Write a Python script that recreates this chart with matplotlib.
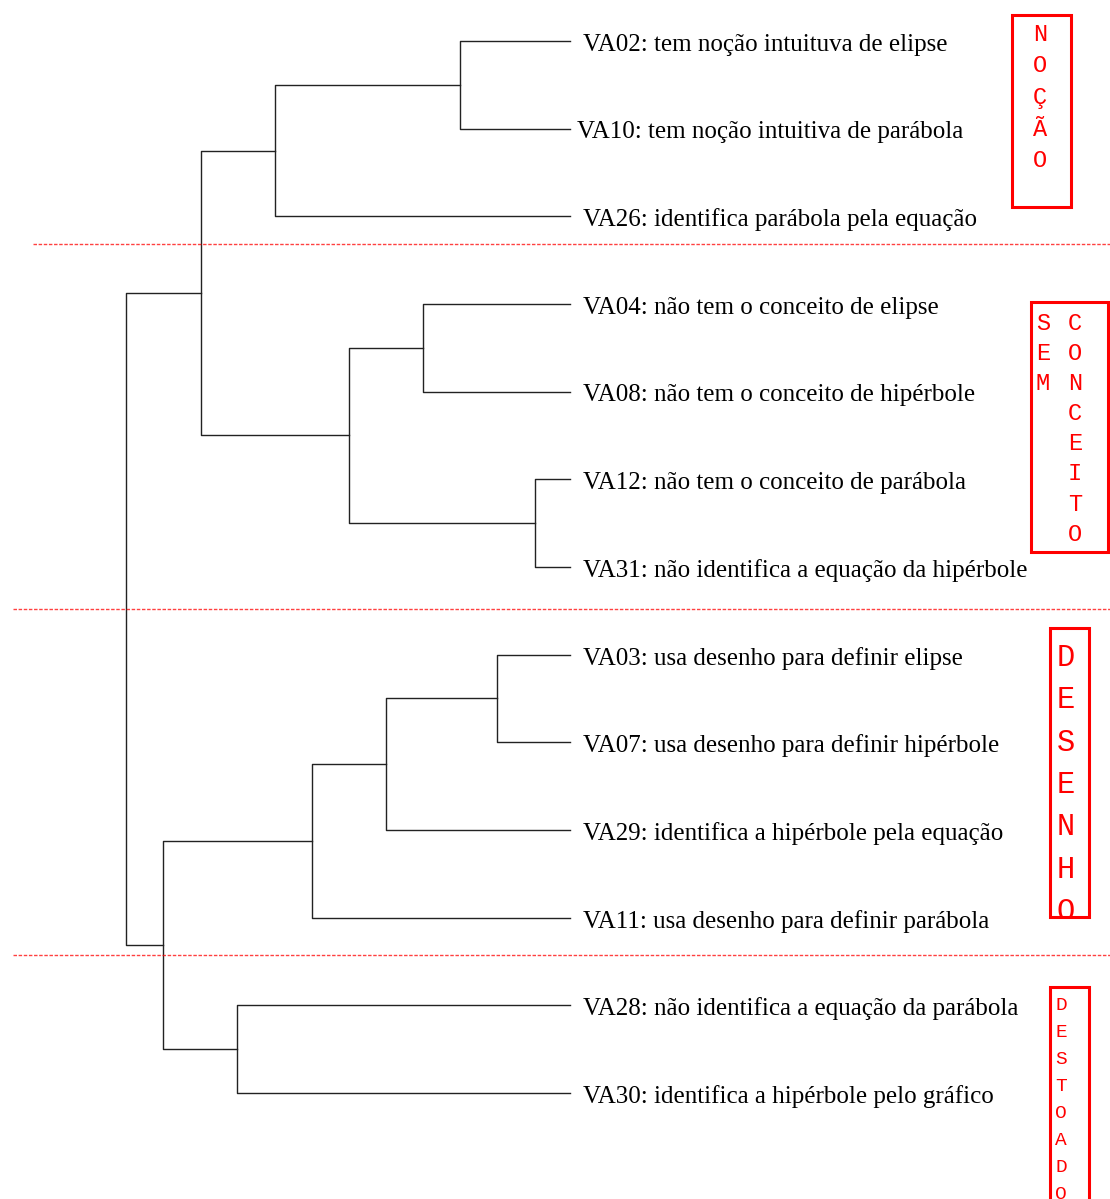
import matplotlib.pyplot as plt
from matplotlib.patches import Rectangle
from matplotlib.transforms import Bbox, TransformedBbox

# leaves, top to bottom
labels = [
    'VA02: tem noção intuituva de elipse',
    'VA10: tem noção intuitiva de parábola',
    'VA26: identifica parábola pela equação',
    'VA04: não tem o conceito de elipse',
    'VA08: não tem o conceito de hipérbole',
    'VA12: não tem o conceito de parábola',
    'VA31: não identifica a equação da hipérbole',
    'VA03: usa desenho para definir elipse',
    'VA07: usa desenho para definir hipérbole',
    'VA29: identifica a hipérbole pela equação',
    'VA11: usa desenho para definir parábola',
    'VA28: não identifica a equação da parábola',
    'VA30: identifica a hipérbole pelo gráfico',
]
label_shift = [0, 0.6, 0, 0, 0, 0, 0, 0, 0, 0, 0, 0, 0]

# merges: clusters numbered from len(labels) on
merge_a = [0, 13, 3, 5, 15, 14, 7, 19, 20, 11, 21, 18]
merge_b = [1, 2, 4, 6, 16, 17, 8, 9, 10, 12, 22, 23]
merge_h = [11.0, 29.5, 14.7, 3.5, 22.1, 36.9, 7.3, 18.4, 25.8, 33.3, 40.7, 44.4]

# cut lines between groups
cut_y = [2.32, 6.48, 10.43]
cut_x0 = [53.7, 55.7, 55.7]

W, H = 1110, 1199
fig = plt.figure(figsize=(W / 100, H / 100), dpi=100)
ax = fig.add_axes([0, 0, 1, 1])
ax.set_xlim(57, -54)
ax.set_ylim(13.21, -0.468)
ax.axis('off')

# dendrogram
pos_y = list(range(len(labels)))
pos_h = [0.0] * len(labels)
for a, b, h in zip(merge_a, merge_b, merge_h):
    ya, yb = pos_y[a], pos_y[b]
    ax.plot([pos_h[a], h, h, pos_h[b]], [ya, ya, yb, yb], color='#222222', lw=1)
    pos_y.append((ya + yb) / 2)
    pos_h.append(h)

for i, lab in enumerate(labels):
    ax.text(-1.3 + label_shift[i], i + 0.04, lab, fontsize=18, family='Liberation Serif',
            va='center', ha='left', color='black')

for y, x0 in zip(cut_y, cut_x0):
    ax.plot([x0, -54], [y, y], color='red', alpha=0.75, lw=1.0, ls=(0, (2.5, 1.2)))


# red boxes with letters stacked vertically (pixel layout)
def box(x0, y0, x1, y1):
    bb = Bbox.from_extents(x0 / W, 1 - y1 / H, x1 / W, 1 - y0 / H)
    r = Rectangle((bb.x0, bb.y0), bb.width, bb.height,
                  transform=fig.transFigure, fill=False, ec='red', lw=2.2)
    ax.add_patch(r)
    return TransformedBbox(bb, fig.transFigure)


def column(word, x, base, step, fs, clip):
    for k, ch in enumerate(word):
        t = ax.text(x / W, 1 - (base + step * k) / H, ch, transform=fig.transFigure,
                    fontsize=fs, family='Liberation Mono', color='red',
                    ha='center', va='baseline')
        t.set_clip_box(clip)
        t.set_clip_on(True)


r1 = box(1012, 15, 1071, 207)
column('NOÇÃO', 1040, 41, 31.5, 17, r1)

r2 = box(1031, 302, 1108, 552)
column('SEM', 1043, 330, 30.1, 17, r2)
column('CONCEITO', 1075, 330, 30.1, 17, r2)

r3 = box(1050, 628, 1089, 917)
column('DESENHO', 1066, 666, 42.3, 22, r3)

r4 = box(1050, 987, 1089, 1215)
column('DESTOADO', 1061, 1009.5, 27.1, 14, r4)

fig.savefig('out.png', dpi=100)
